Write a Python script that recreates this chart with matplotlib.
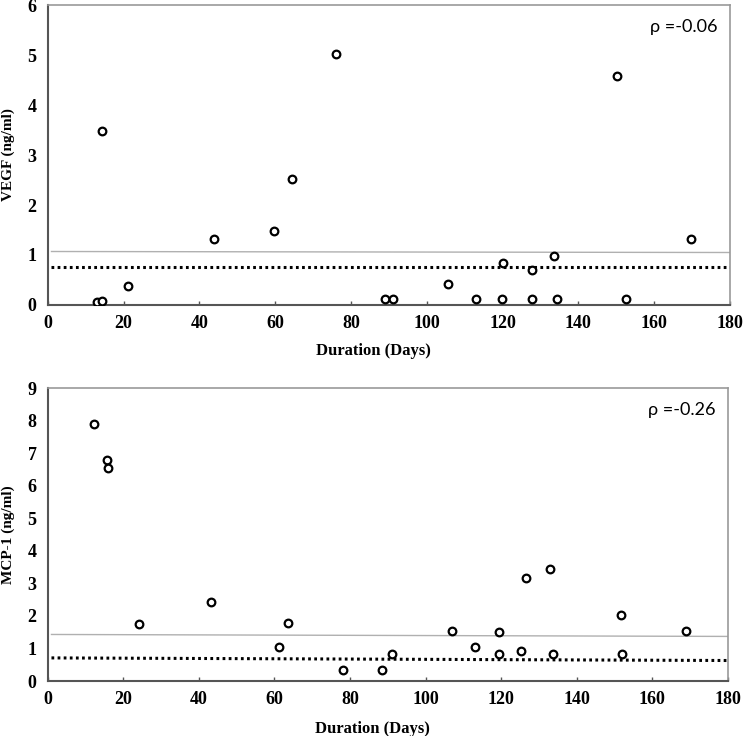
import matplotlib.pyplot as plt

# VEGF panel
vegf_days = [13.0, 14.4, 14.4, 21.2, 43.8, 59.7, 64.4, 76.1, 89.0, 91.2, 105.6,
             113.1, 120.1, 119.9, 127.7, 127.7, 133.5, 134.4, 150.3, 152.5, 169.6]
vegf_vals = [0.05, 0.07, 3.49, 0.38, 1.31, 1.47, 2.53, 5.03, 0.11, 0.11, 0.41,
             0.11, 0.83, 0.11, 0.69, 0.11, 0.98, 0.11, 4.58, 0.11, 1.31]
vegf_gray = [1.07, 1.05]
vegf_dot = [0.75, 0.75]

# MCP-1 panel
mcp_days = [12.2, 15.8, 15.9, 24.2, 43.3, 61.1, 63.6, 78.1, 88.5, 91.2, 107.0,
            113.1, 119.3, 119.3, 125.1, 126.5, 132.9, 133.6, 151.7, 151.9, 168.9]
mcp_vals = [7.91, 6.79, 6.55, 1.76, 2.44, 1.04, 1.78, 0.35, 0.35, 0.84, 1.55,
            1.04, 1.51, 0.82, 0.92, 3.15, 3.44, 0.82, 2.02, 0.82, 1.55]
mcp_gray = [1.43, 1.37]
mcp_dot = [0.71, 0.63]

line_x = [1, 180]

fig = plt.figure(figsize=(7.43, 7.36), dpi=100)
ax1 = fig.add_axes([0.0642, 0.5856, 0.9183, 0.4076])
ax2 = fig.add_axes([0.0642, 0.0747, 0.9156, 0.3981])

panels = [
    (ax1, vegf_days, vegf_vals, vegf_gray, vegf_dot, 6, 'VEGF (ng/ml)', 'ρ =-0.06', -0.127),
    (ax2, mcp_days, mcp_vals, mcp_gray, mcp_dot, 9, 'MCP-1 (ng/ml)', 'ρ =-0.26', -0.137),
]

for ax, x, y, gray, dot, ymax, ylab, rho, xlab_y in panels:
    ax.plot(line_x, gray, color='#b0b0b0', lw=1.0, zorder=1)
    ax.plot(line_x, dot, color='black', lw=2.2, linestyle=(0, (0.9, 1.1)), zorder=2)
    ax.plot(x, y, 'o', mfc='white', mec='black', mew=1.6, ms=5.5, zorder=3)
    ax.set_xlim(0, 180)
    ax.set_ylim(0, ymax)
    ax.set_xticks(range(0, 181, 20))
    ax.set_yticks(range(0, ymax + 1))
    ax.tick_params(axis='x', direction='in', length=3, width=1, color='#555555', pad=7)
    ax.tick_params(axis='y', length=0, pad=8)
    for lab in ax.get_xticklabels() + ax.get_yticklabels():
        lab.set_fontfamily('Liberation Serif')
        lab.set_fontweight('bold')
        lab.set_fontsize(13)
    for side in ['left', 'bottom']:
        ax.spines[side].set_color('#555555')
        ax.spines[side].set_linewidth(1.5)
    for side in ['top', 'right']:
        ax.spines[side].set_color('#999999')
        ax.spines[side].set_linewidth(1.2)
    ax.set_ylabel(ylab, fontfamily='Liberation Serif', fontweight='bold', fontsize=11)
    ax.yaxis.set_label_coords(-0.048, 0.5)
    ax.set_xlabel('Duration (Days)', fontfamily='Liberation Serif', fontweight='bold', fontsize=12)
    ax.xaxis.set_label_coords(0.478, xlab_y)
    ax.text(0.982, 0.926, rho, transform=ax.transAxes, ha='right', va='center',
            fontfamily='Lato', fontsize=13)

fig.savefig('out.png', dpi=100)
